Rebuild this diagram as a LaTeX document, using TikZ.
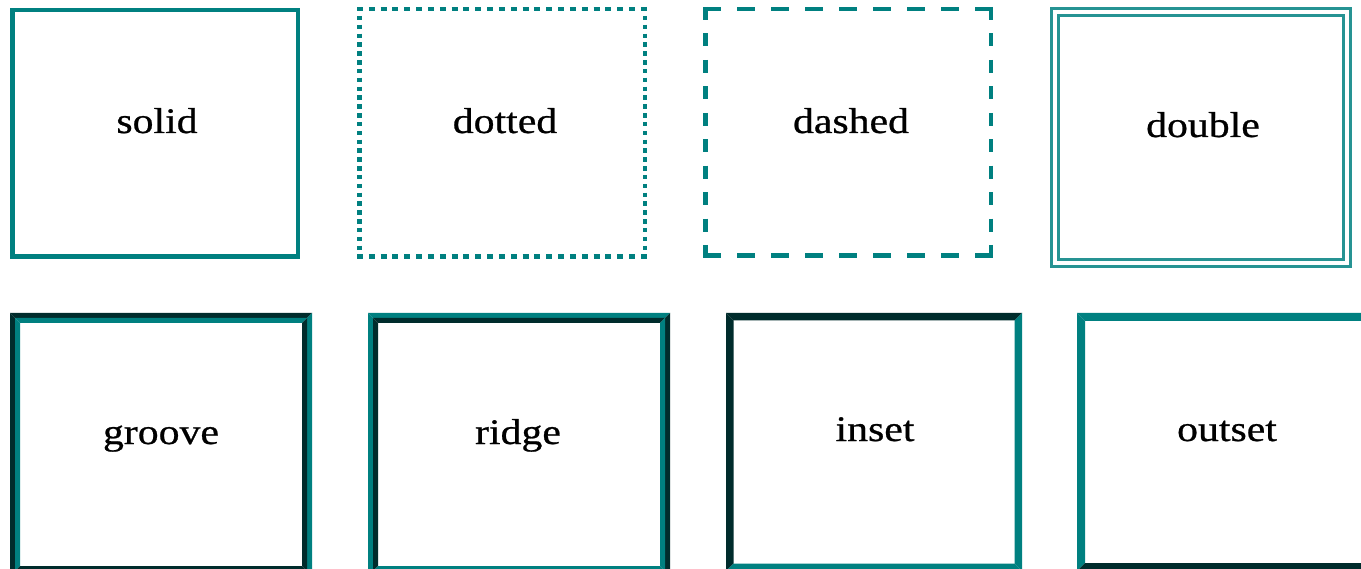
\documentclass[tikz,border=0pt]{standalone}
\usepackage{fontspec}
\setmainfont{Liberation Serif}[FakeStretch=1.16,FakeBold=0.7]
\definecolor{tl}{RGB}{0,128,128}
\definecolor{dk}{RGB}{0,44,44}
\newcommand\bevelbox[7]{%
  \fill[#6] (#1,#2) -- (#3,#2) -- ({#3-#5},{#2+#5}) -- ({#1+#5},{#2+#5}) -- cycle;
  \fill[#6] (#1,#2) -- ({#1+#5},{#2+#5}) -- ({#1+#5},{#4-#5}) -- (#1,#4) -- cycle;
  \fill[#7] (#1,#4) -- ({#1+#5},{#4-#5}) -- ({#3-#5},{#4-#5}) -- (#3,#4) -- cycle;
  \fill[#7] (#3,#2) -- (#3,#4) -- ({#3-#5},{#4-#5}) -- ({#3-#5},{#2+#5}) -- cycle;
}
\tikzset{
  lbl/.style={anchor=base, inner sep=0pt, text=black, font=\fontsize{36}{40}\selectfont},
  bord/.style={draw=tl, line width=4.5pt},
  dotsh/.style={draw=tl, line width=4.5pt, line cap=butt, dash pattern=on 6pt off 5.83pt},
  dotsv/.style={draw=tl, line width=4.5pt, line cap=butt, dash pattern=on 4.5pt off 4.34pt},
  dashh/.style={draw=tl, line width=4.5pt, line cap=butt, dash pattern=on 17.5pt off 16.56pt},
  dashv/.style={draw=tl, line width=4.5pt, line cap=butt, dash pattern=on 13pt off 13.44pt},
  dbl/.style={draw=tl!85!white, line width=3pt}
}
\begin{document}
\begin{tikzpicture}[x=1pt, y=-1pt]
\useasboundingbox (0,0) rectangle (1361,569);
\fill[white] (0,0) rectangle (1361,569);
\begin{scope}
\clip (0,0) rectangle (1361,569);
% solid
\draw[bord] (12.25,10.25) rectangle (297.75,256.75);
% dotted
\draw[dotsh] (357,9.25) -- (647,9.25);
\draw[dotsh] (357,256.75) -- (647,256.75);
\draw[dotsv] (359.25,7) -- (359.25,259);
\draw[dotsv] (644.75,7) -- (644.75,259);
% dashed
\draw[dashh] (703,9.25) -- (993,9.25);
\draw[dashh] (703,255.75) -- (993,255.75);
\draw[dashv] (705.25,7) -- (705.25,258);
\draw[dashv] (990.75,7) -- (990.75,258);
% double
\draw[dbl] (1051.5,8.5) rectangle (1350.5,266.5);
\draw[dbl] (1058.5,15.5) rectangle (1343.5,259.5);
% groove
\bevelbox{10}{313}{312}{576}{5}{dk}{tl}
\bevelbox{15}{318}{307}{571}{5}{tl}{dk}
% ridge
\bevelbox{368}{313}{670}{576}{5}{tl}{dk}
\bevelbox{373}{318}{665}{571}{5}{dk}{tl}
% inset
\bevelbox{726}{313}{1022}{571}{7.5}{dk}{tl}
% outset
\bevelbox{1077}{313}{1373}{571}{8}{tl}{dk}
\end{scope}
\node[lbl] (solid) at (157,133) {solid};
\node[lbl] (dotted) at (505,133) {dotted};
\node[lbl] (dashed) at (851,133) {dashed};
\node[lbl] (double) at (1203,137) {double};
\node[lbl] (groove) at (161,444) {groove};
\node[lbl] (ridge) at (518,444) {ridge};
\node[lbl] (inset) at (875,441) {inset};
\node[lbl] (outset) at (1227,441) {outset};
\end{tikzpicture}
\end{document}
